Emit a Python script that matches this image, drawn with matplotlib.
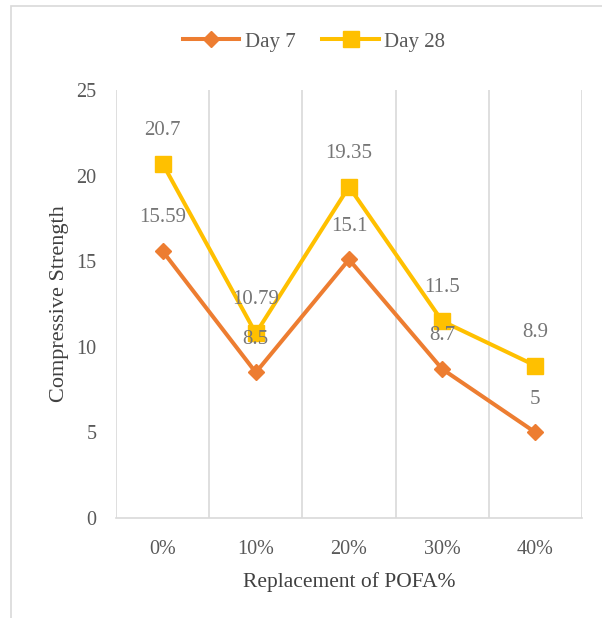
import matplotlib
matplotlib.use("Agg")
import matplotlib.pyplot as plt
from matplotlib.lines import Line2D
from matplotlib.patches import Rectangle

plt.rcParams['font.family'] = ['Liberation Serif', 'DejaVu Serif']

categories = ["0%", "10%", "20%", "30%", "40%"]
day7 = [15.59, 8.5, 15.1, 8.7, 5]
day28 = [20.7, 10.79, 19.35, 11.5, 8.9]
yticks = [0, 5, 10, 15, 20, 25]

ORANGE = "#ED7D31"
GOLD = "#FFC000"
GRID = "#D9D9D9"
TEXT = "#595959"
LABEL = "#767676"

W, H = 602, 618
fig = plt.figure(figsize=(W / 100, H / 100), dpi=100)

# outer chart frame (left and top edges visible)
fig.add_artist(Rectangle((10.5 / W, -0.05), 1.2, 1 - 5.5 / H + 0.05,
                         transform=fig.transFigure, fill=False,
                         edgecolor=GRID, linewidth=1.2))

ax = fig.add_axes([116 / W, 1 - 518 / H, 466 / W, 428 / H])
x = list(range(len(categories)))

ax.plot(x, day7, color=ORANGE, lw=2.9, marker="D", ms=8.5,
        label="Day 7", zorder=3, solid_joinstyle="round")
ax.plot(x, day28, color=GOLD, lw=2.9, marker="s", ms=11,
        label="Day 28", zorder=3, solid_joinstyle="round")

for series in (day7, day28):
    for xi, v in zip(x, series):
        ax.annotate(f"{v:g}", (xi, v), xytext=(0, 24), textcoords="offset points",
                    ha="center", va="center", fontsize=15, color=LABEL, zorder=5)

ax.set_xlim(-0.5, len(categories) - 0.5)
ax.set_ylim(0, 25)
ax.set_yticks(yticks)
ax.set_yticklabels([str(t) for t in yticks])
ax.set_xticks(x)
ax.set_xticklabels(categories)

# vertical gridlines between categories
for b in [i - 0.5 for i in range(len(categories) + 1)]:
    ax.axvline(b, color=GRID, lw=1.2, zorder=1)

for s in ["top", "right", "left"]:
    ax.spines[s].set_visible(False)
ax.spines["bottom"].set_color(GRID)
ax.spines["bottom"].set_linewidth(1.2)

ax.tick_params(axis="both", length=0, labelsize=14.5, colors=TEXT)
ax.tick_params(axis="y", pad=14)
ax.tick_params(axis="x", pad=16)

ax.set_ylabel("Compressive Strength", fontsize=16, color="#404040", labelpad=5)
ax.set_xlabel("Replacement of POFA%", fontsize=15.5, color="#404040", labelpad=9)

handles = [
    Line2D([], [], color=ORANGE, lw=2.9, marker="D", ms=8.5),
    Line2D([], [], color=GOLD, lw=2.9, marker="s", ms=11),
]
fig.legend(handles, ["Day 7", "Day 28"], loc="center",
           bbox_to_anchor=(314 / W, 1 - 42 / H), ncol=2, frameon=False,
           fontsize=15, labelcolor=TEXT, handlelength=2.7, handletextpad=0.25,
           columnspacing=1.3)

fig.savefig("out.png", dpi=100, facecolor="white")
